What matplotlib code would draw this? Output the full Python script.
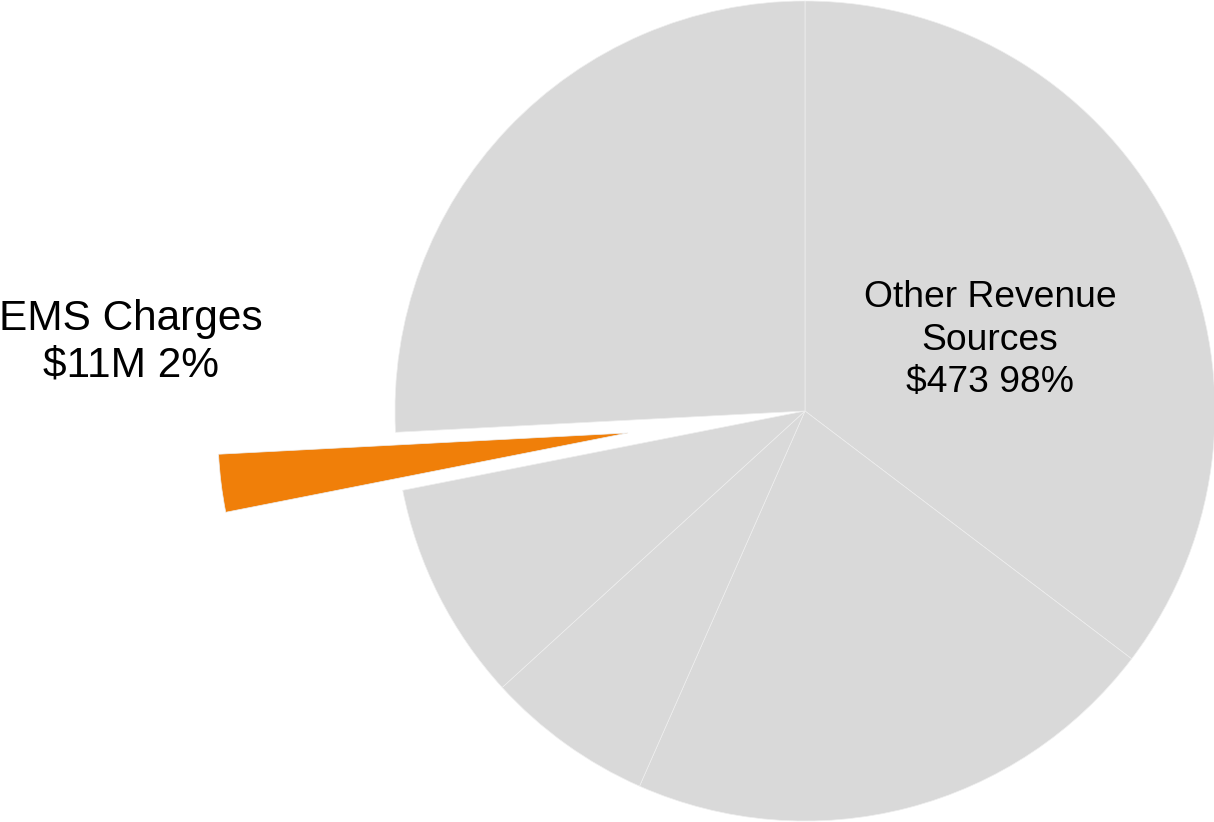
import matplotlib.pyplot as plt

# Revenue slices ($M), clockwise from 12 o'clock
labels = ['Other 1', 'Other 2', 'Other 3', 'Other 4', 'EMS Charges', 'Other 5']
values = [171, 103, 32, 42, 11, 125]
colors = ['#D9D9D9', '#D9D9D9', '#D9D9D9', '#D9D9D9', '#F07F09', '#D9D9D9']
explode = [0, 0, 0, 0, 0.435, 0]

plt.rcParams['font.family'] = ['Liberation Sans', 'DejaVu Sans']

fig = plt.figure(figsize=(12.14, 8.22), dpi=100)
ax = fig.add_axes([0, 0, 1, 1])

ax.pie(values, colors=colors, explode=explode, startangle=90, counterclock=False,
       radius=1, wedgeprops=dict(edgecolor='#EEEEEE', linewidth=0.5))

# pie centre sits at pixel (805, 411), radius 410 px
ax.set_xlim(-805 / 410, (1214 - 805) / 410)
ax.set_ylim(-411 / 410, 411 / 410)
ax.set_aspect('equal')
ax.axis('off')

ems_total = values[4]
other_total = sum(values) - ems_total
total = sum(values)

ax.text(0.451, 0.173, 'Other Revenue\nSources\n$%d %d%%' % (other_total, round(other_total / total * 100)),
        ha='center', va='center', fontsize=26.8, linespacing=1.28, color='black')
ax.text(-1.644, 0.168, 'EMS Charges\n$%dM %d%%' % (ems_total, round(ems_total / total * 100)),
        ha='center', va='center', fontsize=30.5, linespacing=1.22, color='black')

fig.savefig('out.png', dpi=100)
